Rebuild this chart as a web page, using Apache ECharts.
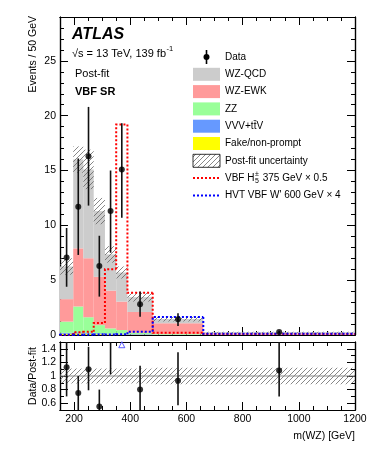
<!DOCTYPE html>
<html>
<head>
<meta charset="utf-8">
<script src="https://cdn.jsdelivr.net/npm/echarts@6/dist/echarts.min.js"></script>
<style>
  html, body { margin: 0; padding: 0; background: #fff; }
  #chart { width: 374px; height: 456px; }
</style>
</head>
<body>
<div id="chart"></div>
<script>
// m(WZ) binning [GeV]
const binEdges = [150, 197, 233, 270, 310, 350, 390, 480, 660, 1200];

// post-fit backgrounds, events / 50 GeV (stack order bottom -> top)
const fakeNonPrompt = [0.12, 0.15, 0.12, 0.08, 0.06, 0.05, 0.04, 0.02, 0.01];
const vvvTtv = [0.08, 0.10, 0.10, 0.08, 0.07, 0.06, 0.05, 0.03, 0.01];
const zz = [1.02, 2.35, 1.40, 0.74, 0.47, 0.34, 0.11, 0.05, 0.01];
const wzEwk = [2.05, 5.30, 5.38, 4.40, 3.45, 2.60, 1.90, 0.97, 0.12];
const wzQcd = [2.98, 8.10, 8.10, 6.00, 3.30, 2.65, 1.35, 0.38, 0.10];
const postFitUnc = [0.75, 1.2, 1.8, 1.2, 0.75, 0.55, 0.4, 0.22, 0.05];

// data
const dataVal = [7.07, 11.7, 16.3, 6.3, 11.3, 15.1, 2.8, 1.43, 0.27];
const dataLo = [4.4, 7.3, 11.8, 3.5, 7.5, 10.7, 1.67, 0.82, 0.18];
const dataHi = [9.76, 16.1, 20.8, 9.05, 15.0, 19.3, 3.96, 1.98, 0.38];

// signals (not stacked)
const vbfH5 = [0, 0.25, 0.3, 1.1, 6.0, 19.2, 3.85, 0.2, 0.1];
const hvtWprime = [0.03, 0.03, 0.03, 0.04, 0.05, 0.06, 0.3, 1.65, 0.12];

// ratio panel
const ratioVal = [1.13, 0.75, 1.1, 0.55, 1.54, 2.6, 0.8, 0.93, 1.08];
const ratioLo = [0.70, 0.46, 0.79, 0.31, 1.025, 1.9, 0.48, 0.57, 0.70];
const ratioHi = [1.56, 1.00, 1.43, 0.80, 2.04, 3.4, 1.15, 1.35, 1.60];
const ratioUnc = [0.11, 0.11, 0.11, 0.11, 0.11, 0.11, 0.11, 0.12, 0.12];
const offScaleX = [370];
const offScaleY = [1.46];

const xMajorTicks = [200, 400, 600, 800, 1000, 1200];
const yMainLabels = [0, 5, 10, 15, 20, 25];
const yRatioLabels = [0.6, 0.8, 1, 1.2, 1.4];

const legendLabels = ['Data', 'WZ-QCD', 'WZ-EWK', 'ZZ', 'VVV+tt\u0304V', 'Fake/non-prompt',
  'Post-fit uncertainty', 'VBF H', 'HVT VBF W\' 600 GeV \u00d7 4'];

const FONT = '"Liberation Sans", Arial, Helvetica, sans-serif';
const colQcd = '#cccccc', colEwk = '#ff9a9a', colZz = '#99ff99', colVvv = '#6699ff', colFake = '#ffff00';

// hatch pattern
const hatch = document.createElement('canvas');
hatch.width = 5; hatch.height = 5;
(function () {
  const c = hatch.getContext('2d');
  c.strokeStyle = '#555';
  c.lineWidth = 0.7;
  c.beginPath();
  c.moveTo(-1, 6); c.lineTo(6, -1);
  c.moveTo(-1, 1); c.lineTo(1, -1);
  c.moveTo(4, 6); c.lineTo(6, 4);
  c.stroke();
})();
const hatchFill = { image: hatch, repeat: 'repeat' };

const chart = echarts.init(document.getElementById('chart'));

// cumulative stack
const layers = [fakeNonPrompt, vvvTtv, zz, wzEwk, wzQcd];
const cum = [];
let run = binEdges.slice(1).map(() => 0);
layers.forEach(l => {
  const lo = run.slice();
  run = run.map((v, i) => v + l[i]);
  cum.push([lo, run.slice()]);
});
const total = run;

function boxSeries(lo, hi, fill, xi, yi, z) {
  return {
    type: 'custom', xAxisIndex: xi, yAxisIndex: yi, z: z || 2, silent: true,
    data: hi.map((v, i) => [binEdges[i], binEdges[i + 1], lo[i], v]),
    encode: { x: [0, 1], y: [2, 3] },
    renderItem: (p, api) => {
      const a = api.coord([api.value(0), api.value(2)]);
      const b = api.coord([api.value(1), api.value(3)]);
      return { type: 'rect', shape: { x: a[0], y: b[1], width: b[0] - a[0], height: a[1] - b[1] }, style: { fill: fill } };
    }
  };
}

function stepSeries(vals, color) {
  return {
    type: 'custom', xAxisIndex: 0, yAxisIndex: 0, z: 5, silent: true,
    data: vals.map((v, i) => [binEdges[i], binEdges[i + 1], i > 0 ? vals[i - 1] : 0, v]),
    encode: { x: [0, 1], y: [2, 3] },
    renderItem: (p, api) => {
      const a = api.coord([api.value(0), api.value(2)]);
      const b = api.coord([api.value(0), api.value(3)]);
      const c = api.coord([api.value(1), api.value(3)]);
      return { type: 'polyline', shape: { points: [a, b, c] }, style: { stroke: color, lineWidth: 2, lineDash: [2, 2], fill: null } };
    }
  };
}

function errSeries(xs, lo, hi, xi, yi) {
  return {
    type: 'custom', xAxisIndex: xi, yAxisIndex: yi, z: 6, silent: true,
    data: xs.map((x, i) => [x, lo[i], hi[i]]),
    encode: { x: 0, y: [1, 2] },
    renderItem: (p, api) => {
      const a = api.coord([api.value(0), api.value(1)]);
      const b = api.coord([api.value(0), api.value(2)]);
      return { type: 'line', shape: { x1: a[0], y1: a[1], x2: b[0], y2: b[1] }, style: { stroke: '#111', lineWidth: 1.6 } };
    }
  };
}

const centers = binEdges.slice(1).map((e, i) => (e + binEdges[i]) / 2);

// ratio: keep what lies in the panel
const rMin = 0.5, rMax = 1.5;
const rErrX = [], rErrLo = [], rErrHi = [], rPts = [];
centers.forEach((x, i) => {
  if (ratioHi[i] > rMin && ratioLo[i] < rMax) {
    rErrX.push(x);
    rErrLo.push(Math.max(ratioLo[i], rMin));
    rErrHi.push(Math.min(ratioHi[i], rMax));
  }
  if (ratioVal[i] >= rMin && ratioVal[i] <= rMax) rPts.push([x, ratioVal[i]]);
});

const tickStyle = { color: '#000', width: 1 };
const lineStyle = { color: '#000', width: 1.2 };
const labelStyle = { color: '#000', fontFamily: FONT, fontSize: 10.5 };

function xAxes(grid, labels) {
  const base = { gridIndex: grid, type: 'value', min: 150, max: 1200, splitLine: { show: false },
    axisLine: { onZero: false, lineStyle: lineStyle } };
  return [
    Object.assign({}, base, { position: 'bottom', axisTick: { inside: true, length: 8, customValues: xMajorTicks, lineStyle: tickStyle },
      axisLabel: labels ? Object.assign({ customValues: xMajorTicks, margin: 4, formatter: v => String(v) }, labelStyle) : { show: false } }),
    Object.assign({}, base, { position: 'top', axisTick: { inside: true, length: 8, customValues: xMajorTicks, lineStyle: tickStyle }, axisLabel: { show: false } }),
    Object.assign({}, base, { position: 'bottom', interval: 50, axisTick: { inside: true, length: 4, lineStyle: tickStyle }, axisLabel: { show: false } }),
    Object.assign({}, base, { position: 'top', interval: 50, axisTick: { inside: true, length: 4, lineStyle: tickStyle }, axisLabel: { show: false } })
  ];
}

function yAxes(grid, min, max, minorInt, majors, fmt) {
  const base = { gridIndex: grid, type: 'value', min: min, max: max, splitLine: { show: false },
    axisLine: { onZero: false, lineStyle: lineStyle } };
  return [
    Object.assign({}, base, { position: 'left', axisTick: { inside: true, length: 8, customValues: majors, lineStyle: tickStyle },
      axisLabel: Object.assign({ customValues: majors, margin: 4, formatter: fmt }, labelStyle) }),
    Object.assign({}, base, { position: 'right', axisTick: { inside: true, length: 8, customValues: majors, lineStyle: tickStyle }, axisLabel: { show: false } }),
    Object.assign({}, base, { position: 'left', interval: minorInt, axisTick: { inside: true, length: 4, lineStyle: tickStyle }, axisLabel: { show: false } }),
    Object.assign({}, base, { position: 'right', interval: minorInt, axisTick: { inside: true, length: 4, lineStyle: tickStyle }, axisLabel: { show: false } })
  ];
}

// text helpers
const mctx = document.createElement('canvas').getContext('2d');
function tw(text, font) { mctx.font = font; return mctx.measureText(text).width; }
function txt(x, y, text, font, extra) {
  return Object.assign({ type: 'text', x: x, y: y, silent: true,
    style: { text: text, font: font, fill: '#000', verticalAlign: 'middle', align: 'left' } }, extra || {});
}

const fLeg = '10px ' + FONT;
const fLegSmall = '7px ' + FONT;
const legX = 193, legW = 27, legH = 13, legTx = 225, legY0 = 57, legDy = 17.3;
const graphics = [];

// ATLAS label block
graphics.push(txt(72, 35, 'ATLAS', 'italic bold 16px ' + FONT));
const fS = '11px ' + FONT;
const sText = '\u221as = 13 TeV, 139 fb';
graphics.push(txt(72, 54, sText, fS));
graphics.push(txt(72 + tw(sText, fS) + 0.5, 49, '-1', '7.5px ' + FONT));
graphics.push(txt(75, 74, 'Post-fit', fS));
graphics.push(txt(75, 92, 'VBF SR', 'bold 11px ' + FONT));

// legend
const fills = [null, colQcd, colEwk, colZz, colVvv, colFake];
legendLabels.forEach((lab, i) => {
  const y = legY0 + i * legDy;
  if (i === 0) {
    graphics.push({ type: 'line', silent: true, shape: { x1: legX + legW / 2, y1: y - 7, x2: legX + legW / 2, y2: y + 7 }, style: { stroke: '#000', lineWidth: 1.6 } });
    graphics.push({ type: 'circle', silent: true, shape: { cx: legX + legW / 2, cy: y, r: 3 }, style: { fill: '#000' } });
  } else if (i <= 5) {
    graphics.push({ type: 'rect', silent: true, shape: { x: legX, y: y - legH / 2, width: legW, height: legH }, style: { fill: fills[i] } });
  } else if (i === 6) {
    graphics.push({ type: 'rect', silent: true, shape: { x: legX, y: y - legH / 2, width: legW, height: legH }, style: { fill: hatchFill, stroke: '#000', lineWidth: 0.8 } });
  } else {
    graphics.push({ type: 'line', silent: true, shape: { x1: legX, y1: y, x2: legX + legW, y2: y }, style: { stroke: i === 7 ? '#ff0000' : '#0000ff', lineWidth: 2, lineDash: [2, 2] } });
  }
  if (i === 7) {
    graphics.push(txt(legTx, y, lab, fLeg));
    const hx = legTx + tw(lab, fLeg);
    graphics.push(txt(hx + 0.5, y - 4, '\u00b1', fLegSmall));
    graphics.push(txt(hx + 0.5, y + 3, '5', fLegSmall));
    graphics.push(txt(hx + 5.5, y, ' 375 GeV \u00d7 0.5', fLeg));
  } else {
    graphics.push(txt(legTx, y, lab, fLeg));
  }
});

// axis titles
graphics.push(txt(33, 16, 'Events / 50 GeV', '10.5px ' + FONT, { rotation: Math.PI / 2, style: { text: 'Events / 50 GeV', font: '10.5px ' + FONT, fill: '#000', align: 'right', verticalAlign: 'middle' } }));
graphics.push(txt(33, 376, 'Data/Post-fit', '10.5px ' + FONT, { rotation: Math.PI / 2, style: { text: 'Data/Post-fit', font: '10.5px ' + FONT, fill: '#000', align: 'center', verticalAlign: 'middle' } }));
graphics.push(txt(355, 436, 'm(WZ) [GeV]', '10.5px ' + FONT, { style: { text: 'm(WZ) [GeV]', font: '10.5px ' + FONT, fill: '#000', align: 'right', verticalAlign: 'middle' } }));

const series = [];
const stackColors = [colFake, colVvv, colZz, colEwk, colQcd];
cum.forEach((c, k) => series.push(boxSeries(c[0], c[1], stackColors[k], 0, 0, 2)));
series.push(boxSeries(total.map((t, i) => t - postFitUnc[i]), total.map((t, i) => t + postFitUnc[i]), hatchFill, 0, 0, 3));
series.push(stepSeries(vbfH5, '#ff0000'));
series.push(stepSeries(hvtWprime, '#0000ff'));
series.push(errSeries(centers, dataLo, dataHi, 0, 0));
series.push({ type: 'scatter', xAxisIndex: 0, yAxisIndex: 0, z: 7, silent: true, symbol: 'circle', symbolSize: 6,
  itemStyle: { color: '#000' }, data: centers.map((x, i) => [x, dataVal[i]]) });

// ratio panel
series.push(boxSeries(ratioUnc.map(u => 1 - u), ratioUnc.map(u => 1 + u), hatchFill, 4, 4, 2));
series.push({ type: 'line', xAxisIndex: 4, yAxisIndex: 4, z: 3, silent: true, symbol: 'none',
  lineStyle: { color: '#888', width: 1 }, data: [[150, 1], [1200, 1]] });
series.push(errSeries(rErrX, rErrLo, rErrHi, 4, 4));
series.push({ type: 'scatter', xAxisIndex: 4, yAxisIndex: 4, z: 7, silent: true, symbol: 'circle', symbolSize: 6,
  itemStyle: { color: '#000' }, data: rPts });
series.push({ type: 'scatter', xAxisIndex: 4, yAxisIndex: 4, z: 7, silent: true, symbol: 'triangle', symbolSize: 6,
  itemStyle: { color: '#fff', borderColor: '#3333ff', borderWidth: 1 }, data: offScaleX.map((x, i) => [x, offScaleY[i]]) });

chart.setOption({
  animation: false,
  backgroundColor: '#fff',
  grid: [
    { left: 60, right: 19, top: 17, height: 318 },
    { left: 60, right: 19, top: 342, height: 68 }
  ],
  xAxis: xAxes(0, false).concat(xAxes(1, true)),
  yAxis: yAxes(0, 0, 29, 1, yMainLabels, v => String(v))
    .concat(yAxes(1, rMin, rMax, 0.1, yRatioLabels, v => String(Math.round(v * 10) / 10))),
  graphic: graphics,
  series: series
});
</script>
</body>
</html>
